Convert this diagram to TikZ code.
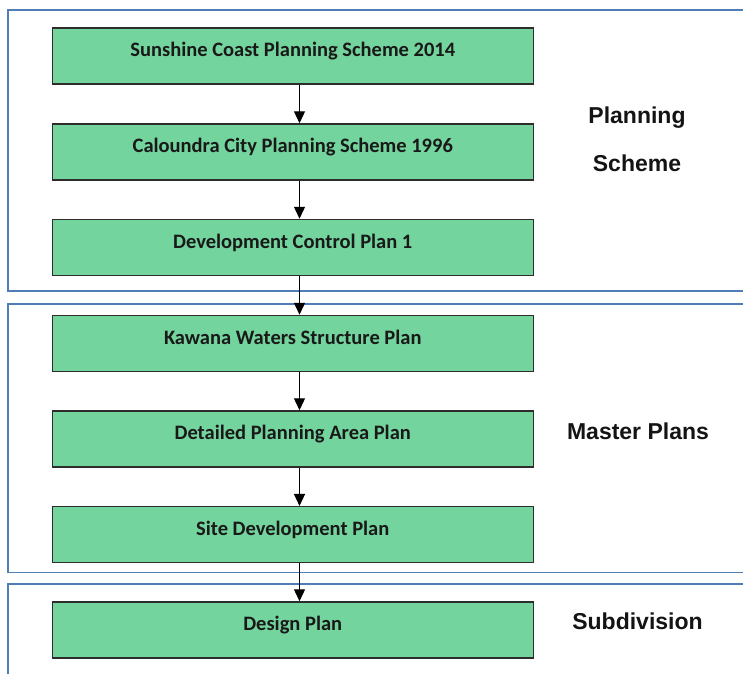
\documentclass[tikz,border=0pt]{standalone}
\usepackage{fontspec}
\setmainfont{Liberation Sans}
\newfontfamily\boxfont{Carlito}
\usetikzlibrary{arrows.meta}
\definecolor{boxgreen}{RGB}{116,212,157}
\definecolor{frameblue}{RGB}{79,125,184}
\definecolor{boxline}{RGB}{45,45,45}
\begin{document}
\begin{tikzpicture}[x=1pt,y=-1pt,
  stagebox/.style={draw=boxline, line width=1.5pt, fill=boxgreen,
    minimum width=481pt, minimum height=56pt, inner sep=0pt,
    text height=10pt, text depth=9pt,
    font=\boxfont\bfseries\fontsize{20.5}{24}\selectfont, text=black!90},
  frame/.style={draw=frameblue, line width=1.8pt},
  flow/.style={draw=black, line width=1.3pt, -{Triangle[width=11pt,length=12pt]}},
  sidelabel/.style={font=\bfseries\fontsize{23}{28}\selectfont, text=black!92, align=center}
]
\useasboundingbox (0,0) rectangle (743,673);
\begin{scope}
\clip (0,0) rectangle (743,673);
\draw[frame] (8,10) rectangle (760,291);
\draw[frame] (8,304) rectangle (760,572.5);
\draw[frame] (8,584) rectangle (760,700);
\end{scope}

\node[stagebox] (b1) at (292.75,56) {Sunshine Coast Planning Scheme 2014};
\node[stagebox] (b2) at (292.75,152) {Caloundra City Planning Scheme 1996};
\node[stagebox] (b3) at (292.75,247.5) {Development Control Plan 1};
\node[stagebox] (b4) at (292.75,343.5) {Kawana Waters Structure Plan};
\node[stagebox] (b5) at (292.75,439) {Detailed Planning Area Plan};
\node[stagebox] (b6) at (292.75,534.7) {Site Development Plan};
\node[stagebox] (b7) at (292.75,630) {Design Plan};

\foreach \a/\b in {b1/b2,b2/b3,b3/b4,b4/b5,b5/b6,b6/b7}
  \draw[flow] ([xshift=6.75pt]\a.south) -- ([xshift=6.75pt]\b.north);

\node[sidelabel] (l1) at (637,118) {Planning};
\node[sidelabel] (l2) at (637,163) {Scheme};
\node[sidelabel] (l3) at (638,431.5) {Master Plans};
\node[sidelabel] (l4) at (637.5,621.5) {Subdivision};
\end{tikzpicture}
\end{document}
